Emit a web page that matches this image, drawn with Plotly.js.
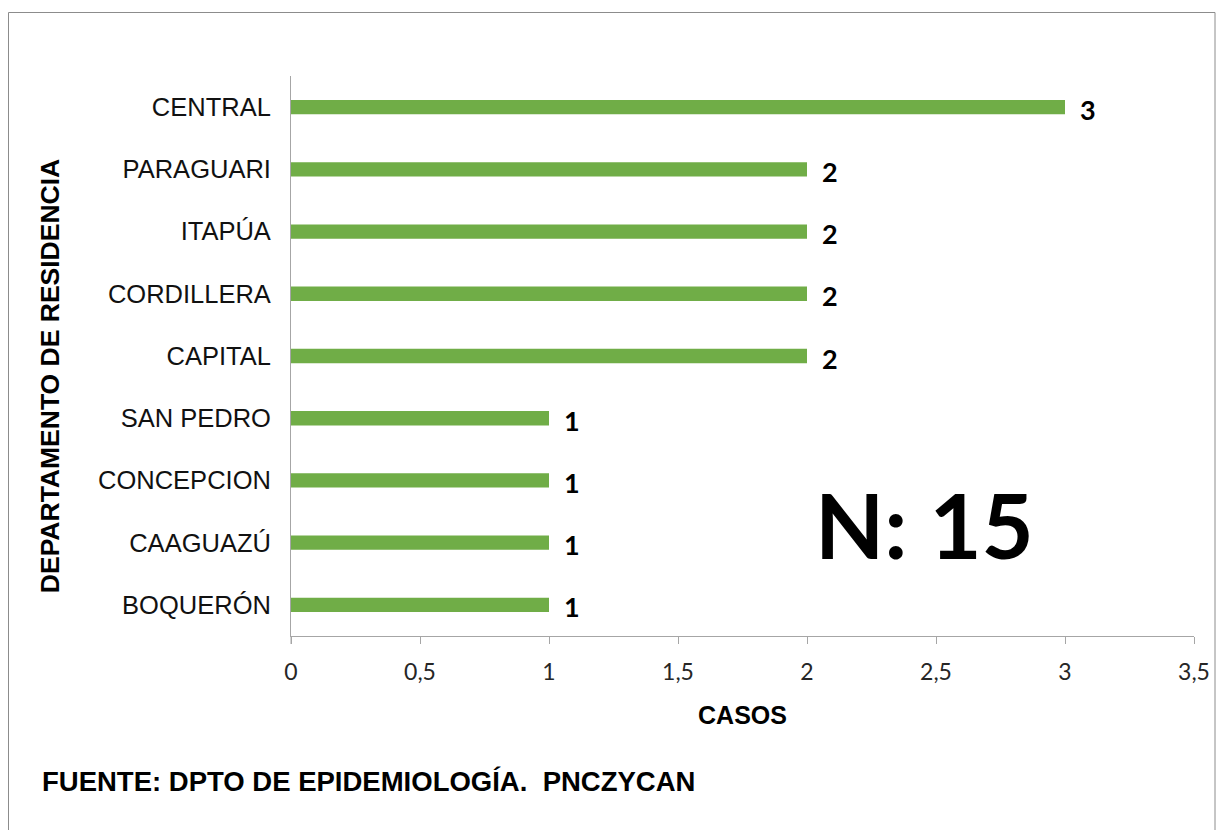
<!DOCTYPE html>
<html>
<head>
<meta charset="utf-8">
<script src="https://cdn.plot.ly/plotly-3.0.1.min.js"></script>
<style>html,body{margin:0;padding:0;background:#fff;}#chart{width:1216px;height:830px;}</style>
</head>
<body>
<div id="chart"></div>
<script>
const categories = ["CENTRAL", "PARAGUARI", "ITAPÚA", "CORDILLERA", "CAPITAL", "SAN PEDRO", "CONCEPCION", "CAAGUAZÚ", "BOQUERÓN"];
const casos = [3, 2, 2, 2, 2, 1, 1, 1, 1];
const xTickVals = [0, 0.5, 1, 1.5, 2, 2.5, 3, 3.5];
const xTickText = ["0", "0,5", "1", "1,5", "2", "2,5", "3", "3,5"];
const yTitle = "DEPARTAMENTO DE RESIDENCIA";
const xTitle = "CASOS";
const totalLabel = "N: 15";
const sourceLabel = "FUENTE: DPTO DE EPIDEMIOLOGÍA.  PNCZYCAN";

const trace = {
  type: "bar",
  orientation: "h",
  x: casos,
  y: categories,
  width: 0.23,
  marker: {color: "#70AD47"},
  hoverinfo: "x+y"
};

const valueAnnotations = categories.map((c, i) => ({
  x: casos[i], y: c, xref: "x", yref: "y",
  text: String(casos[i]), showarrow: false,
  xanchor: "left", yanchor: "middle", xshift: 13, yshift: -2,
  font: {family: "Lato, 'Open Sans', sans-serif", size: 27, color: "#000", weight: "bold"}
}));

const layout = {
  width: 1216, height: 830,
  margin: {l: 291, r: 22, t: 76, b: 194},
  paper_bgcolor: "#fff", plot_bgcolor: "#fff",
  showlegend: false,
  xaxis: {
    range: [0, 3.5],
    tickvals: xTickVals, ticktext: xTickText,
    showgrid: false, zeroline: false,
    showline: true, linecolor: "#a6a6a6", linewidth: 1,
    ticks: "outside", ticklen: 7, tickcolor: "#a6a6a6",
    ticklabelstandoff: 8,
    tickfont: {family: "Lato, 'Open Sans', sans-serif", size: 23, color: "#262626"},
    title: {text: "<b>" + xTitle + "</b>", font: {family: "'Liberation Sans', Arial, sans-serif", size: 25, color: "#000"}, standoff: 22}
  },
  yaxis: {
    autorange: "reversed",
    type: "category",
    showgrid: false, zeroline: false,
    showline: true, linecolor: "#a6a6a6", linewidth: 1,
    ticks: "", ticklabelstandoff: 14,
    tickfont: {family: "'Liberation Sans', Arial, sans-serif", size: 25.5, color: "#111"}
  },
  annotations: valueAnnotations.concat([
    {x: -0.2669, y: 0.464, xref: "paper", yref: "paper", text: "<b>" + yTitle + "</b>", showarrow: false,
     textangle: -90, xanchor: "center", yanchor: "middle",
     font: {family: "'Liberation Sans', Arial, sans-serif", size: 26.5, color: "#000"}},
    {x: 0.702, y: 0.2, xref: "paper", yref: "paper", text: "<b>" + totalLabel + "</b>", showarrow: false,
     xanchor: "center", yanchor: "middle",
     font: {family: "Lato, 'Open Sans', sans-serif", size: 90, color: "#000"}},
    {x: -0.278, y: -0.2607, xref: "paper", yref: "paper", text: "<b>" + sourceLabel + "</b>", showarrow: false,
     xanchor: "left", yanchor: "middle",
     font: {family: "'Liberation Sans', Arial, sans-serif", size: 27.5, color: "#000"}}
  ]),
  shapes: [
    {type: "rect", xref: "paper", yref: "paper",
     x0: (8.5 - 291) / 903, x1: (1215 - 291) / 903,
     y0: (636 - 840) / 560, y1: (636 - 12.5) / 560,
     line: {color: "#8c8c8c", width: 1}, fillcolor: "rgba(0,0,0,0)", layer: "below"},
    {type: "line", xref: "paper", yref: "paper",
     x0: 0, x1: 0, y0: 0, y1: -8 / 560,
     line: {color: "#a6a6a6", width: 1}}
  ]
};

Plotly.newPlot("chart", [trace], layout, {displayModeBar: false, staticPlot: true});
</script>
</body>
</html>
